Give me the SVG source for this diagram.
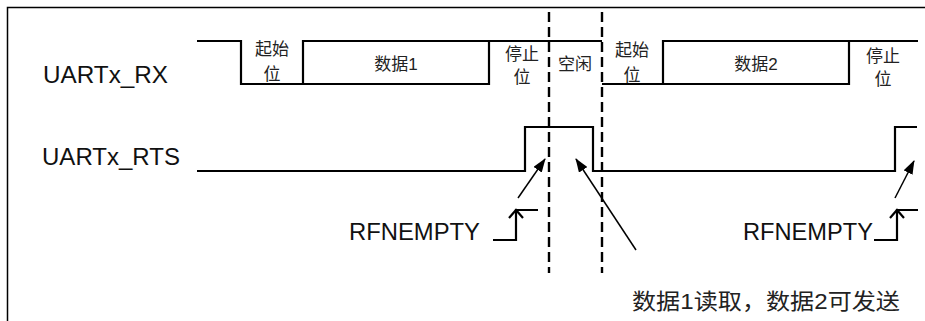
<svg xmlns="http://www.w3.org/2000/svg" width="925" height="321" viewBox="0 0 925 321">
<defs>
<style>
.sig{fill:none;stroke:#000;stroke-width:2.2;stroke-linejoin:miter}
.dash{fill:none;stroke:#000;stroke-width:2.4;stroke-dasharray:10,5}
.lbl{font-family:"Liberation Sans","Noto Sans CJK SC",sans-serif;font-size:23px;fill:#111}
.cn{font-family:"Liberation Sans","Noto Sans CJK SC",sans-serif;font-size:17px;fill:#222;text-anchor:middle}
.note{font-family:"Liberation Sans","Noto Sans CJK SC",sans-serif;font-size:22px;fill:#222}
.arr{fill:none;stroke:#000;stroke-width:1.5}
</style>
<marker id="ah" markerWidth="14" markerHeight="10" refX="13" refY="5" orient="auto" markerUnits="userSpaceOnUse">
<path d="M0,0 L14,5 L0,10 Z" fill="#000"/>
</marker>
</defs>
<rect width="925" height="321" fill="#fff"/>
<path d="M7.5,321 V7.5 H925" fill="none" stroke="#000" stroke-width="1.5"/>

<g id="label-rx"><text class="lbl" x="43" y="83" textLength="125" lengthAdjust="spacingAndGlyphs">UARTx_RX</text></g>
<g id="label-rts"><text class="lbl" x="42" y="165" textLength="138" lengthAdjust="spacingAndGlyphs">UARTx_RTS</text></g>

<g id="rx-signal">
<path class="sig" d="M197,41 H241 V84 H303 V41 H602"/>
<path class="sig" d="M303,84 H489 V41"/>
<path class="sig" d="M602,84 H663 V41 H918"/>
<path class="sig" d="M663,84 H849 V41"/>
</g>
<g id="rx-start1"><text class="cn" x="272" y="55">起始</text><text class="cn" x="272" y="80">位</text></g>
<g id="rx-data1"><text class="cn" x="396" y="70">数据1</text></g>
<g id="rx-stop1"><text class="cn" x="522" y="60">停止</text><text class="cn" x="522" y="83">位</text></g>
<g id="rx-idle"><text class="cn" x="575" y="70">空闲</text></g>
<g id="rx-start2"><text class="cn" x="632" y="56">起始</text><text class="cn" x="632" y="81">位</text></g>
<g id="rx-data2"><text class="cn" x="756" y="70">数据2</text></g>
<g id="rx-stop2"><text class="cn" x="883" y="62">停止</text><text class="cn" x="883" y="85">位</text></g>

<g id="rts-signal">
<path class="sig" d="M197,171 H525 V127 H593 V171 H895 V127 H917"/>
</g>

<g id="dividers">
<line class="dash" x1="549" y1="12" x2="549" y2="273"/>
<line class="dash" x1="602" y1="12" x2="602" y2="273"/>
</g>

<g id="rfnempty1">
<text class="lbl" x="349" y="240" textLength="131" lengthAdjust="spacingAndGlyphs">RFNEMPTY</text>
<path class="sig" d="M493,240 H516 V210 H538"/>
<path class="sig" d="M509,218 L516,210 L523,218"/>
</g>
<g id="rfnempty2">
<text class="lbl" x="743" y="240" textLength="130" lengthAdjust="spacingAndGlyphs">RFNEMPTY</text>
<path class="sig" d="M874,240 H897 V210 H918"/>
<path class="sig" d="M890,218 L897,210 L904,218"/>
</g>

<g id="note"><text class="note" x="632" y="309" textLength="268" lengthAdjust="spacingAndGlyphs">数据1读取，数据2可发送</text></g>

<g id="connectors">
<line class="arr" x1="518" y1="198" x2="545" y2="159" marker-end="url(#ah)"/>
<line class="arr" x1="636" y1="250" x2="576" y2="159" marker-end="url(#ah)"/>
<line class="arr" x1="895" y1="198" x2="914" y2="161" marker-end="url(#ah)"/>
</g>
</svg>
